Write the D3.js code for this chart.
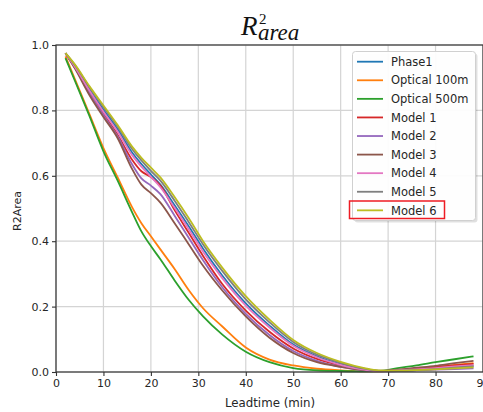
<!DOCTYPE html>
<html><head><meta charset="utf-8">
<script src="https://cdn.jsdelivr.net/npm/d3@7"></script>
<style>html,body{margin:0;padding:0;background:#fff;overflow:hidden}</style>
</head><body><svg id="c" width="483" height="412"></svg>
<script>
const leadtime = [2,4,7,10,13,16,18,20,22,25,28,31,35,40,45,50,55,60,65,68,72,76,80,84,88];
const phase1     = [.975,.935,.866,.802,.742,.672,.636,.604,.573,.510,.445,.377,.296,.210,.142,.084,.048,.024,.008,.003,.004,.006,.010,.015,.019];
const optical100 = [.965,.895,.790,.685,.595,.505,.455,.415,.375,.315,.250,.195,.140,.075,.038,.020,.010,.005,.002,.002,.005,.010,.016,.022,.027];
const optical500 = [.960,.890,.785,.675,.585,.490,.430,.385,.345,.280,.220,.170,.115,.062,.030,.012,.005,.003,.002,.003,.012,.020,.030,.039,.048];
const model1     = [.975,.932,.858,.790,.725,.650,.614,.596,.570,.495,.425,.355,.270,.188,.123,.072,.040,.020,.006,.003,.006,.010,.015,.020,.025];
const model2     = [.975,.930,.854,.785,.720,.636,.592,.570,.544,.478,.410,.342,.260,.178,.113,.064,.034,.016,.005,.002,.003,.005,.007,.009,.011];
const model3     = [.975,.928,.848,.780,.715,.622,.573,.547,.518,.455,.390,.325,.250,.170,.105,.058,.030,.016,.006,.003,.007,.013,.019,.027,.034];
const model4     = [.975,.933,.862,.796,.735,.664,.628,.597,.565,.502,.436,.368,.288,.203,.136,.080,.045,.022,.007,.003,.005,.008,.012,.017,.021];
const model5     = [.975,.938,.872,.810,.750,.683,.647,.615,.585,.524,.458,.390,.310,.222,.152,.092,.053,.028,.010,.004,.004,.006,.009,.013,.017];
const model6     = [.975,.940,.875,.815,.755,.690,.655,.625,.595,.535,.470,.400,.320,.232,.160,.098,.058,.031,.012,.005,.004,.006,.008,.011,.014];
const seriesNames = ["Phase1","Optical 100m","Optical 500m","Model 1","Model 2","Model 3","Model 4","Model 5","Model 6"];
const seriesValues = [phase1,optical100,optical500,model1,model2,model3,model4,model5,model6];
const colors = ["#1f77b4","#ff7f0e","#2ca02c","#d62728","#9467bd","#8c564b","#e377c2","#7f7f7f","#bcbd22"];
const xTicks = [0,10,20,30,40,50,60,70,80,90];
const yTicks = [0,0.2,0.4,0.6,0.8,1.0];

const svg = d3.select("#c");
const L=56, R=483, T=45, B=372;
const x = d3.scaleLinear().domain([0,90]).range([L,R]);
const y = d3.scaleLinear().domain([0,1]).range([B,T]);
const font = "DejaVu Sans, sans-serif";

// grid
const g = svg.append("g");
g.selectAll(".gx").data(xTicks).join("line").attr("x1",d=>x(d)).attr("x2",d=>x(d)).attr("y1",T).attr("y2",B)
  .attr("stroke","#d4d4d4").attr("stroke-width",1.2);
g.selectAll(".gy").data(yTicks).join("line").attr("y1",d=>y(d)).attr("y2",d=>y(d)).attr("x1",L).attr("x2",R)
  .attr("stroke","#d4d4d4").attr("stroke-width",1.2);

// lines
const line = d3.line().x((d,i)=>x(leadtime[i])).y(d=>y(d)).curve(d3.curveMonotoneX);
seriesValues.forEach((vals,k)=>{
  svg.append("path").datum(vals).attr("d",line).attr("fill","none")
    .attr("stroke",colors[k]).attr("stroke-width",1.8);
});

// spines
svg.append("rect").attr("x",L).attr("y",T).attr("width",R-L).attr("height",B-T)
  .attr("fill","none").attr("stroke","#333").attr("stroke-width",1.2);

// axes
const xAxis = svg.append("g").attr("transform",`translate(0,${B})`)
  .call(d3.axisBottom(x).tickValues(xTicks).tickFormat(d3.format("d")).tickSize(4).tickPadding(3));
const yAxis = svg.append("g").attr("transform",`translate(${L},0)`)
  .call(d3.axisLeft(y).tickValues(yTicks).tickFormat(d3.format(".1f")).tickSize(4).tickPadding(3));
[xAxis,yAxis].forEach(a=>{
  a.select(".domain").remove();
  a.selectAll("line").attr("stroke","#333").attr("stroke-width",1.1);
  a.selectAll("text").attr("font-family",font).attr("font-size",11).attr("fill","#262626");
});

// axis labels
svg.append("text").attr("x",270).attr("y",407).attr("text-anchor","middle")
  .attr("font-family",font).attr("font-size",11.8).attr("fill","#262626").text("Leadtime (min)");
svg.append("text").attr("transform","translate(21,211) rotate(-90)").attr("text-anchor","middle")
  .attr("font-family",font).attr("font-size",11).attr("fill","#262626").text("R2Area");

// title
const title = svg.append("text").attr("font-family","Liberation Serif, serif").attr("font-style","italic").attr("fill","#111");
title.append("tspan").attr("x",241).attr("y",35).attr("font-size",27).text("R");
title.append("tspan").attr("x",259).attr("y",24).attr("font-size",15).attr("font-style","normal").text("2");
title.append("tspan").attr("x",258).attr("y",40).attr("font-size",23).text("area");

// legend
const lg = svg.append("g");
lg.append("rect").attr("x",354.5).attr("y",53.5).attr("width",123).attr("height",169).attr("rx",3)
  .attr("fill","#000").attr("opacity",0.12);
lg.append("rect").attr("x",352.5).attr("y",51.5).attr("width",123).attr("height",169).attr("rx",3)
  .attr("fill","#fff").attr("fill-opacity",0.95).attr("stroke","#d0d0d0").attr("stroke-width",1);
seriesNames.forEach((n,i)=>{
  const yy = 61.7 + i*18.58;
  lg.append("line").attr("x1",357).attr("x2",383).attr("y1",yy).attr("y2",yy)
    .attr("stroke",colors[i]).attr("stroke-width",1.8);
  lg.append("text").attr("x",391).attr("y",yy+4.2).attr("font-family",font).attr("font-size",11.5)
    .attr("fill","#262626").text(n);
});
// highlight box around Model 6
lg.append("rect").attr("x",349.5).attr("y",201).attr("width",95).attr("height",17.5)
  .attr("fill","none").attr("stroke","#ee1c24").attr("stroke-width",1.5);
</script></body></html>
